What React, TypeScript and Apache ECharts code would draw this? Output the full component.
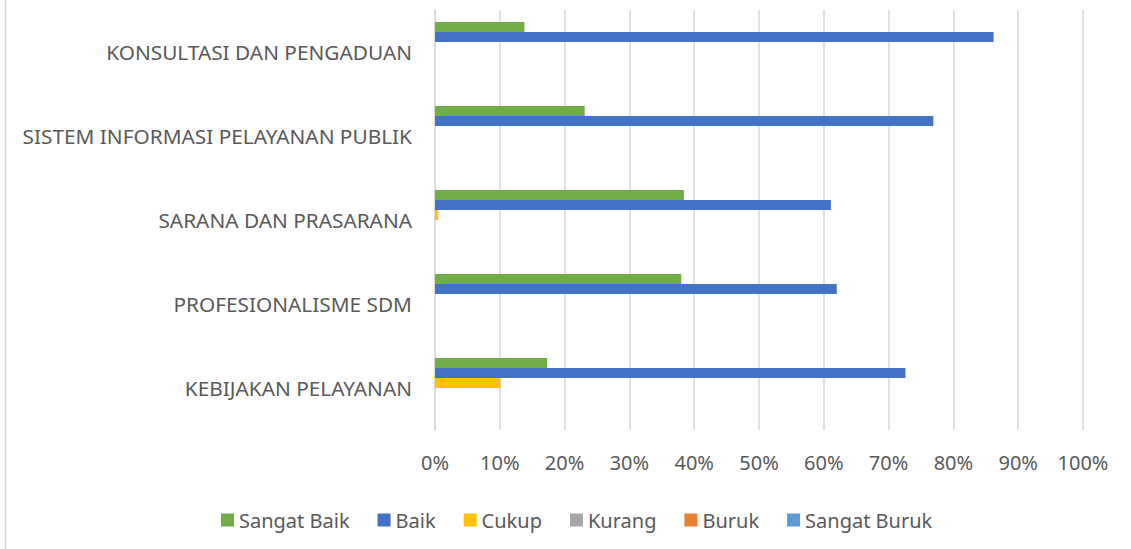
import React, { useEffect, useRef } from "react";
import * as echarts from "echarts";

const categories = [
  "KEBIJAKAN PELAYANAN",
  "PROFESIONALISME SDM",
  "SARANA DAN PRASARANA",
  "SISTEM INFORMASI PELAYANAN PUBLIK",
  "KONSULTASI DAN PENGADUAN",
];
const seriesNames = ["Sangat Baik", "Baik", "Cukup", "Kurang", "Buruk", "Sangat Buruk"];
const seriesColors = ["#70AD47", "#4472C4", "#FFC000", "#A5A5A5", "#ED7D31", "#5B9BD5"];
const sangatBaik = [17.3, 38.0, 38.4, 23.1, 13.8];
const baik = [72.6, 62.0, 61.1, 76.9, 86.2];
const cukup = [10.1, 0, 0.5, 0, 0];
const kurang = [0, 0, 0, 0, 0];
const buruk = [0, 0, 0, 0, 0];
const sangatBuruk = [0, 0, 0, 0, 0];
const seriesValues = [sangatBaik, baik, cukup, kurang, buruk, sangatBuruk];

const FONT = "'Noto Sans', sans-serif";

export default function App() {
  const ref = useRef<HTMLDivElement>(null);
  useEffect(() => {
    if (!ref.current) return;
    const chart = echarts.init(ref.current, undefined, { renderer: "svg" });
    chart.setOption({
      animation: false,
      backgroundColor: "#ffffff",
      textStyle: { fontFamily: FONT },
      grid: { left: 435, right: 48, top: 10, bottom: 119, containLabel: false },
      legend: {
        data: seriesNames,
        left: 216,
        top: 505,
        itemWidth: 13,
        itemHeight: 13,
        itemGap: 28,
        icon: "rect",
        textStyle: { color: "#595959", fontSize: 20, fontFamily: FONT },
      },
      xAxis: {
        type: "value",
        min: 0,
        max: 100,
        interval: 10,
        axisLabel: {
          formatter: "{value}%",
          color: "#595959",
          fontSize: 20,
          fontFamily: FONT,
          margin: 22,
        },
        axisLine: { show: false },
        axisTick: { show: false },
        splitLine: { show: true, lineStyle: { color: "#D9D9D9", width: 1.5 } },
      },
      yAxis: {
        type: "category",
        data: categories,
        axisLabel: { color: "#595959", fontSize: 20.8, fontFamily: FONT, margin: 23 },
        axisLine: { show: true, lineStyle: { color: "#D9D9D9", width: 1.5 } },
        axisTick: { show: false },
        splitLine: { show: false },
      },
      graphic: [
        {
          type: "line",
          shape: { x1: 5.5, y1: 0, x2: 5.5, y2: 549 },
          style: { stroke: "#D9D9D9", lineWidth: 1.5 },
        },
      ],
      series: seriesNames.map((name, i) => ({
        name,
        type: "bar",
        data: seriesValues[i],
        barWidth: 10,
        barGap: "0%",
        itemStyle: { color: seriesColors[i] },
      })),
    });
    return () => chart.dispose();
  }, []);
  return (
    <div
      ref={ref}
      style={{ position: "absolute", left: 0, top: 0, width: 1131, height: 549 }}
    />
  );
}
